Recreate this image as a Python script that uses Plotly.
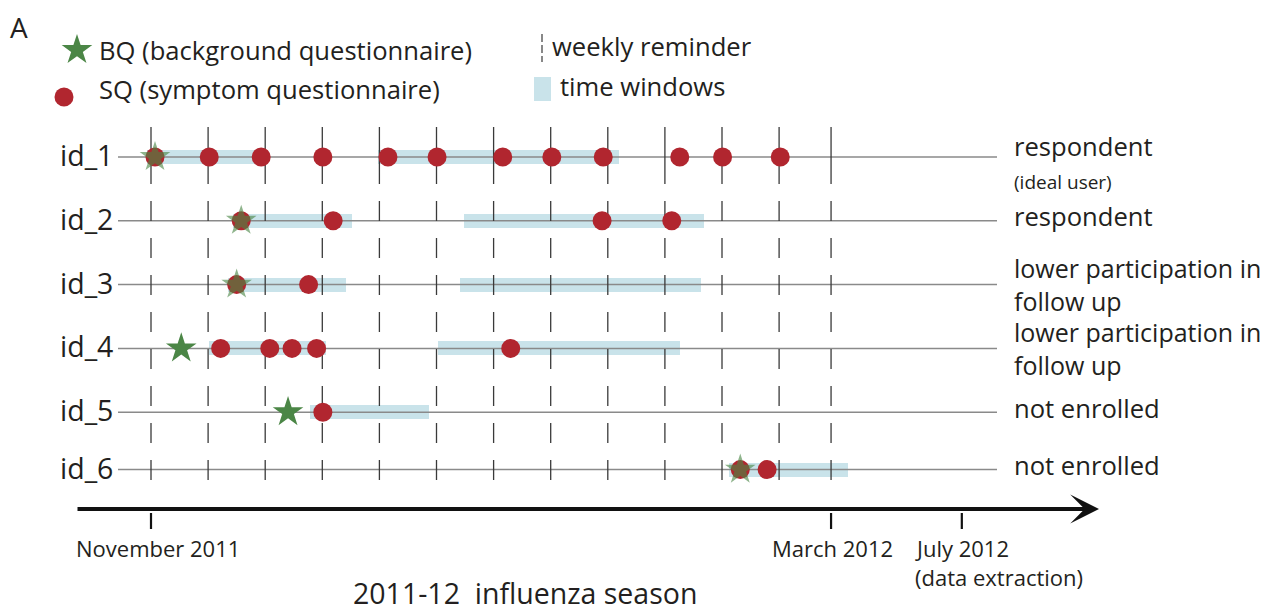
import plotly.graph_objects as go

# ---------------- data (x in weeks from November 2011) ----------------
participants = ["id_1", "id_2", "id_3", "id_4", "id_5", "id_6"]
status_lines = [["respondent"], ["respondent"],
                ["lower participation in", "follow up"],
                ["lower participation in", "follow up"],
                ["not enrolled"], ["not enrolled"]]
status_notes = ["(ideal user)", "", "", "", "", ""]

bq_week = [0.07, 1.58, 1.50, 0.53, 2.40, 10.32]
sq_weeks = [
    [0.07, 1.02, 1.93, 3.01, 4.15, 5.01, 6.16, 7.02, 7.92, 9.26, 10.01, 11.02],
    [1.58, 3.19, 7.90, 9.12],
    [1.50, 2.76],
    [1.22, 2.08, 2.47, 2.90, 6.30],
    [3.01],
    [10.32, 10.79],
]
window_start = [[-0.07, 3.98], [1.44, 5.48], [1.35, 5.41], [1.01, 5.03], [2.79], [10.13]]
window_end = [[1.86, 8.20], [3.52, 9.68], [3.41, 9.63], [3.07, 9.26], [4.86], [12.20]]

reminder_weeks = [0, 1, 2, 3, 4, 5, 6, 7, 8, 9, 10, 11, 11.91]
tick_weeks = [0, 11.91, 14.20]
tick_labels = ["November 2011", "March 2012", "July 2012"]
tick_note = "(data extraction)"
season_label = "2011-12\u00a0 influenza season"

# ---------------- layout geometry ----------------
FW, FH = 1280, 614
W, X0 = 57.1, 151.0      # px per week, px of week 0
U, Y0 = 63.8, 157.0      # px per row, px of first row
row_pos = [0, 1, 2, 3, 4, 4.9]

def dx(p):
    return (p - X0) / W

def dy(p):
    return (p - Y0) / U

def pxp(p):
    return p / FW

def pyp(p):
    return 1 - p / FH

FONT = "Open Sans"
TXT = "#231f20"
RED = "#b1262f"
GREEN = "#4b8646"
BLUE = "#c9e3ea"
MAIN = 25.6

fig = go.Figure()

# time windows
wy, wb, wl = [], [], []
for r, (ss, ee) in enumerate(zip(window_start, window_end)):
    for s, e in zip(ss, ee):
        wy.append(row_pos[r]); wb.append(s); wl.append(e - s)
fig.add_trace(go.Bar(orientation="h", y=wy, base=wb, x=wl, width=14 / U,
                     marker=dict(color=BLUE, line=dict(width=0)), hoverinfo="skip"))

# row lines
lx, ly = [], []
for r in row_pos:
    lx += [dx(118), dx(997), None]; ly += [r, r, None]
fig.add_trace(go.Scatter(x=lx, y=ly, mode="lines", line=dict(color="#8a8a8a", width=1.5),
                         hoverinfo="skip"))

# weekly reminders (solid top part + dashed part)
sx, sy, ddx, ddy = [], [], [], []
for w in reminder_weeks:
    sx += [w, w, None]; sy += [dy(127), dy(184), None]
    ddx += [w, w, None]; ddy += [dy(201), dy(480), None]
fig.add_trace(go.Scatter(x=sx, y=sy, mode="lines", line=dict(color="#3a3a3a", width=1.3),
                         hoverinfo="skip"))
fig.add_trace(go.Scatter(x=ddx, y=ddy, mode="lines",
                         line=dict(color="#3a3a3a", width=1.3, dash="20px,17px"),
                         hoverinfo="skip"))

# SQ circles
cx, cy = [], []
for r, ws in enumerate(sq_weeks):
    for w in ws:
        cx.append(w); cy.append(row_pos[r])
fig.add_trace(go.Scatter(x=cx, y=cy, mode="markers",
                         marker=dict(symbol="circle", size=19, color=RED, line=dict(width=0)),
                         hoverinfo="skip"))

# BQ stars (translucent where they sit on an SQ)
op = [0.62 if any(abs(b - s) < 0.05 for s in sq_weeks[r]) else 1.0 for r, b in enumerate(bq_week)]
fig.add_trace(go.Scatter(x=bq_week, y=row_pos, mode="markers",
                         marker=dict(symbol="star", size=23, color=GREEN, opacity=op,
                                     line=dict(width=0)),
                         hoverinfo="skip"))

# legend keys
fig.add_trace(go.Scatter(x=[dx(77)], y=[dy(50)], mode="markers",
                         marker=dict(symbol="star", size=23, color=GREEN, line=dict(width=0)),
                         hoverinfo="skip"))
fig.add_trace(go.Scatter(x=[dx(64)], y=[dy(97)], mode="markers",
                         marker=dict(symbol="circle", size=19, color=RED, line=dict(width=0)),
                         hoverinfo="skip"))
fig.add_trace(go.Scatter(x=[dx(542), dx(542)], y=[dy(34), dy(62)], mode="lines",
                         line=dict(color="#3a3a3a", width=1.2, dash="8px,3px"),
                         hoverinfo="skip"))
fig.add_shape(type="rect", xref="paper", yref="paper",
              x0=pxp(534), x1=pxp(551), y0=pyp(101), y1=pyp(77),
              fillcolor=BLUE, line=dict(width=0), layer="below")

# timeline axis ticks
tx, ty = [], []
for w in tick_weeks:
    tx += [w, w, None]; ty += [dy(513), dy(529), None]
fig.add_trace(go.Scatter(x=tx, y=ty, mode="lines", line=dict(color="#111", width=2.2),
                         hoverinfo="skip"))

annotations = []
# timeline arrow
annotations.append(dict(x=dx(1099), y=dy(509), ax=dx(76), ay=dy(509), xref="x", yref="y",
                        axref="x", ayref="y", showarrow=True, arrowhead=3, arrowsize=1.2,
                        arrowwidth=4, arrowcolor="#111", text="", standoff=0))

def txt(text, x, y, size, xanchor="left", yanchor="middle", align="left"):
    annotations.append(dict(text=text, x=pxp(x), y=pyp(y), xref="paper", yref="paper",
                            showarrow=False, xanchor=xanchor, yanchor=yanchor, align=align,
                            font=dict(family=FONT, size=size, color=TXT)))

txt("A", 8, 27, 28)
txt("BQ (background questionnaire)", 97, 50, MAIN)
txt("SQ (symptom questionnaire)", 97, 89, MAIN)
txt("weekly reminder", 550, 46, MAIN)
txt("time windows", 558, 86, MAIN)

for r, name in enumerate(participants):
    yp = Y0 + row_pos[r] * U
    txt(name, 115, yp - 2, 28.5, xanchor="right")
    lines = status_lines[r]
    if len(lines) == 2:
        txt("<br>".join(lines), 1012, yp, MAIN - 0.6)
    elif status_notes[r]:
        txt(lines[0] + "<br><span style='font-size:19px'>" + status_notes[r] + "</span>",
            1012, yp + 5, MAIN)
    else:
        txt(lines[0], 1012, yp - 4, MAIN)

# tick labels
txt(tick_labels[0], X0 + tick_weeks[0] * W + 7, 548, 22, xanchor="center")
txt(tick_labels[1], X0 + tick_weeks[1] * W + 1, 548, 22, xanchor="center")
txt(tick_labels[2], X0 + tick_weeks[2] * W - 49, 548, 22)
txt(tick_note, X0 + tick_weeks[2] * W - 49, 577, 22)
txt(season_label, 525, FH, 28.5, xanchor="center", yanchor="bottom")

fig.update_layout(
    width=FW, height=FH, autosize=False,
    margin=dict(l=0, r=0, t=0, b=0),
    paper_bgcolor="white", plot_bgcolor="white",
    showlegend=False, bargap=0,
    xaxis=dict(range=[dx(0), dx(FW)], visible=False, fixedrange=True),
    yaxis=dict(range=[dy(FH), dy(0)], visible=False, fixedrange=True),
    annotations=annotations,
    font=dict(family=FONT, color=TXT),
)

fig.write_html("out.html", config={"displayModeBar": False},
               post_script="document.body.style.margin='0px';")
